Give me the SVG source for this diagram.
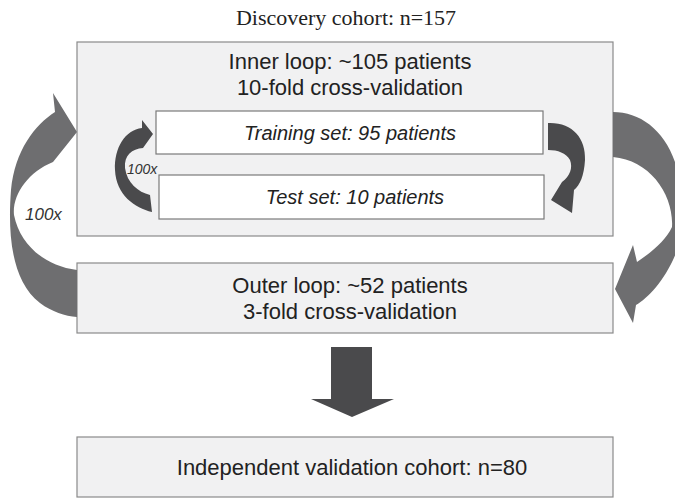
<svg xmlns="http://www.w3.org/2000/svg" width="675" height="501" viewBox="0 0 675 501">
  <style>
    .panel { fill: #f1f1f2; stroke: #8a8a8a; stroke-width: 1.2; }
    .set { fill: #ffffff; stroke: #7a7a7a; stroke-width: 1.2; }
    .lbl { font-family: "Liberation Sans", Arial, sans-serif; font-size: 22px; fill: #222; text-anchor: middle; }
    .ital { font-family: "Liberation Sans", Arial, sans-serif; font-size: 20px; font-style: italic; fill: #222; text-anchor: middle; }
    .title { font-family: "Liberation Serif", "Times New Roman", serif; font-size: 22px; fill: #222; text-anchor: middle; }
    .rep { font-family: "Liberation Sans", Arial, sans-serif; font-style: italic; fill: #333; }
    .big { fill: #6e6e70; }
    .small { fill: #4a4a4c; }
  </style>
  <rect width="675" height="501" fill="#ffffff"/>

  <text class="title" x="346" y="25">Discovery cohort: n=157</text>

  <g id="inner-loop">
    <rect class="panel" x="77" y="42" width="536" height="194"/>
    <text class="lbl" x="350" y="69">Inner loop: ~105 patients</text>
    <text class="lbl" x="350" y="95">10-fold cross-validation</text>
  </g>

  <g id="training-set">
    <rect class="set" x="156" y="111" width="387" height="43"/>
    <text class="ital" x="350" y="140">Training set: 95 patients</text>
  </g>

  <g id="test-set">
    <rect class="set" x="159" y="175" width="385" height="44"/>
    <text class="ital" x="355" y="204">Test set: 10 patients</text>
  </g>

  <g id="outer-loop">
    <rect class="panel" x="77" y="263" width="536" height="70"/>
    <text class="lbl" x="350" y="293">Outer loop: ~52 patients</text>
    <text class="lbl" x="350" y="319">3-fold cross-validation</text>
  </g>

  <g id="validation-cohort">
    <rect class="panel" x="77" y="437" width="536" height="60"/>
    <text class="lbl" x="352" y="475">Independent validation cohort: n=80</text>
  </g>

  <g id="connectors">
    <!-- outer repetition: outer loop back up to inner loop -->
    <path class="big" d="M77,270 C45,266 20,245 14,215 C12,195 28,172 53,162 L77,132 L53,93 L55,112 C35,125 15,150 11,190 C8,230 10,280 40,303 C52,312 65,316 77,317 Z"/>
    <!-- inner loop result passed down to outer loop -->
    <path class="big" d="M613,112 C640,112 665,130 676,165 L680,170 L680,245 L676,253 C665,280 648,298 636,305 L633,323 L615,289 L633,245 L637,262 C652,252 666,240 672,227 C674,195 650,160 613,157 Z"/>
    <!-- inner repetition: test set back to training set -->
    <path class="small" d="M150,195 C138,192 127,183 125,168 C124,155 132,149 143,148 L153,134 L142,120 L142,128 C125,130 114,148 115,170 C116,195 135,208 152,212 Z"/>
    <!-- training set to test set -->
    <path class="small" d="M548,123 C572,122 586,138 585,160 C584,176 580,185 574,190 L572,213 L551,200 L562,182 C570,176 573,168 570,160 C566,153 558,150 548,150 Z"/>
    <!-- outer loop to validation cohort -->
    <polygon class="small" points="331,347 372,347 372,399 394,399 352,417 311,399 331,399"/>
    <text class="rep" x="25" y="220" font-size="17">100x</text>
    <text class="rep" x="127" y="174" font-size="14">100x</text>
  </g>
</svg>
